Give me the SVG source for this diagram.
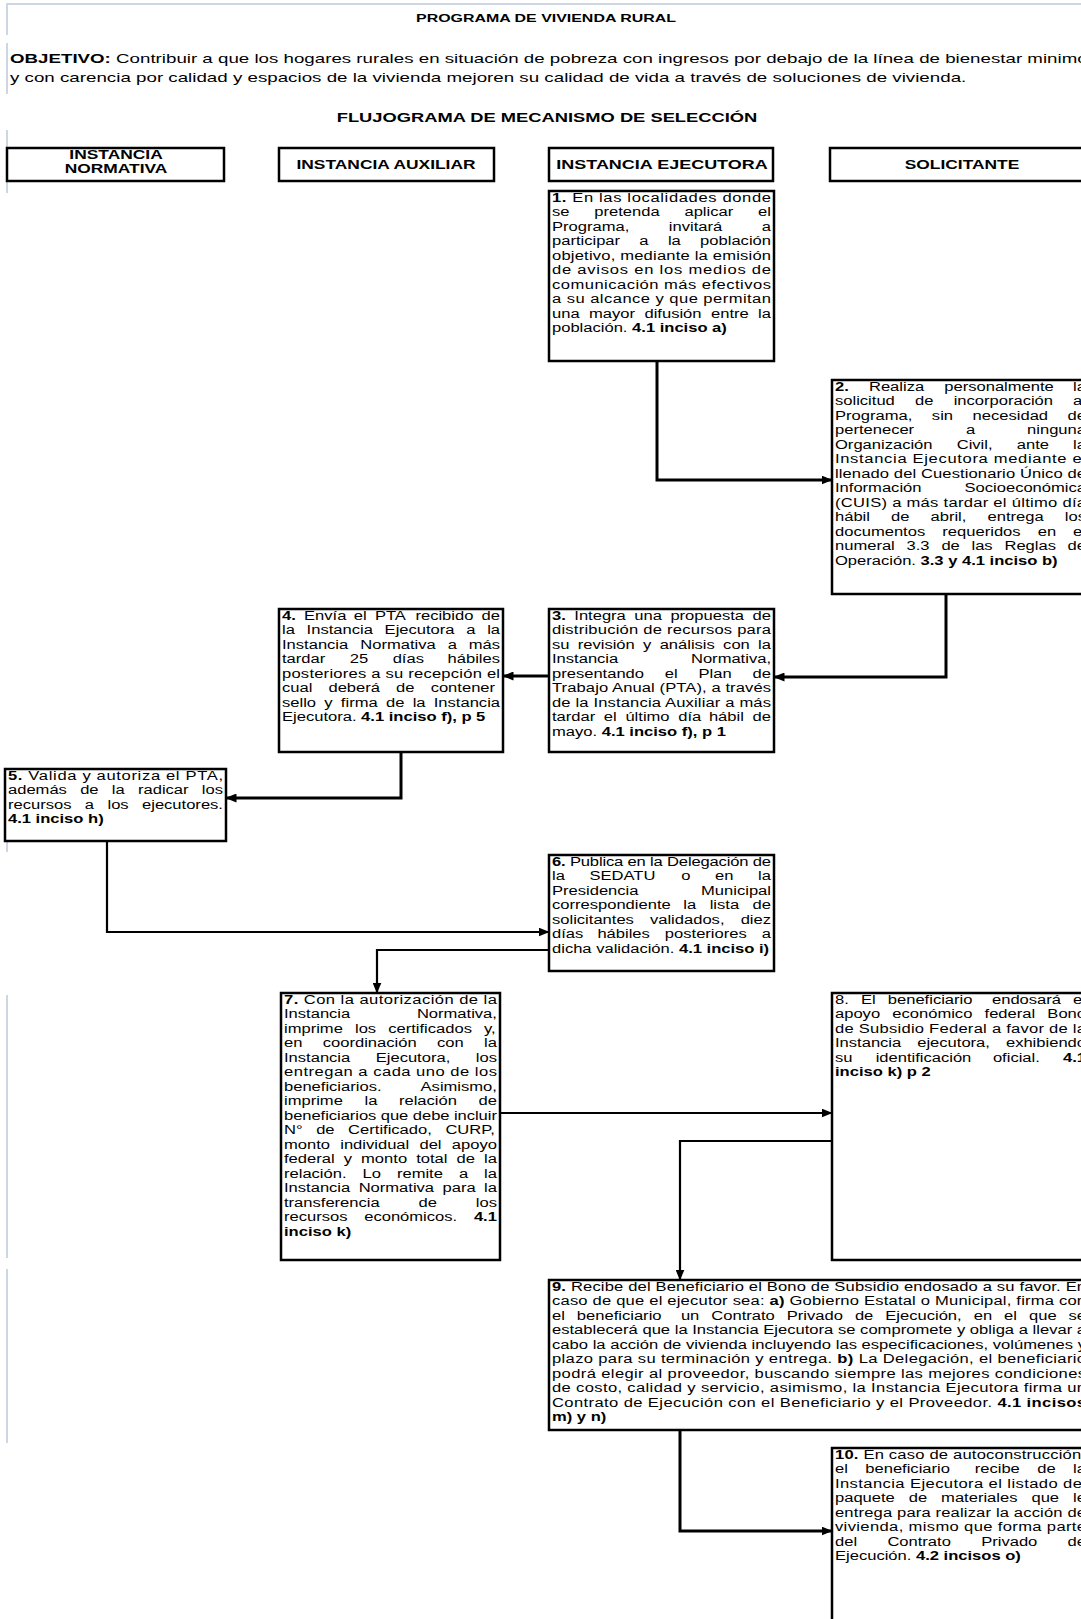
<svg xmlns="http://www.w3.org/2000/svg" width="1081" height="1619" viewBox="0 0 1081 1619">
<style>
text{font-family:"Liberation Sans",Arial,sans-serif;fill:#000}
.t{font-size:12px}
.b{font-weight:bold}
.h{font-size:12px;font-weight:bold;text-anchor:middle}
.box{fill:#fff;stroke:#000;stroke-width:2.5}
.c{fill:none;stroke:#000;stroke-width:3;marker-end:url(#ah)}
.c2{fill:none;stroke:#000;stroke-width:2.2;marker-end:url(#ah)}
.faint{stroke:#cdd6e4;stroke-width:2;fill:none}
</style>
<defs>
<marker id="ah" markerUnits="userSpaceOnUse" markerWidth="11" markerHeight="9" refX="10.5" refY="4.5" orient="auto">
<path d="M0,0 L11,4.5 L0,9 z" fill="#000"/>
</marker>
</defs>
<rect width="1081" height="1619" fill="#fff"/>
<g id="decor">
<path class="faint" d="M6,4 H1081 M7,5 V35 M7,43 V94 M7,130 V193 M7,781 V852 M7,995 V1258 M7,1269 V1443"/>
</g>
<g id="titles">
<text class="b" font-size="11" text-anchor="middle" transform="translate(546,22) scale(1.45,1)">PROGRAMA DE VIVIENDA RURAL</text>
<text font-size="13" transform="translate(10,63) scale(1.44,1)"><tspan class="b">OBJETIVO:</tspan> Contribuir a que los hogares rurales en situación de pobreza con ingresos por debajo de la línea de bienestar minimo</text>
<text font-size="13" transform="translate(10,82) scale(1.442,1)">y con carencia por calidad y espacios de la vivienda  mejoren su calidad de vida a través de soluciones de vivienda.</text>
<text class="b" font-size="13" text-anchor="middle" transform="translate(547,122) scale(1.41,1)">FLUJOGRAMA DE MECANISMO DE SELECCIÓN</text>
</g>
<g id="lanes">
<g id="lane-normativa"><rect class="box" x="7" y="148" width="217" height="33"/>
<text class="h" transform="translate(116,159) scale(1.45,1)">INSTANCIA</text>
<text class="h" transform="translate(116,173) scale(1.45,1)">NORMATIVA</text></g>
<g id="lane-auxiliar"><rect class="box" x="279" y="148" width="215" height="33"/>
<text class="h" transform="translate(386,169) scale(1.45,1)">INSTANCIA AUXILIAR</text></g>
<g id="lane-ejecutora"><rect class="box" x="549" y="148" width="224" height="33"/>
<text class="h" transform="translate(662,169) scale(1.5,1)">INSTANCIA EJECUTORA</text></g>
<g id="lane-solicitante"><rect class="box" x="830" y="148" width="264" height="33"/>
<text class="h" transform="translate(962,169) scale(1.45,1)">SOLICITANTE</text></g>
</g>
<g id="connectors">
<path class="c" d="M657,361 V480 H832"/>
<path class="c" d="M946,594 V677 H774"/>
<path class="c" d="M549,676 H503"/>
<path class="c" d="M401,752 V798 H226"/>
<path class="c2" d="M107,841 V932 H549"/>
<path class="c2" d="M549,950 H377 V993"/>
<path class="c2" d="M500,1113 H832"/>
<path class="c2" d="M832,1141 H680 V1280"/>
<path class="c" d="M680,1430 V1531 H832"/>
</g>
<g id="n1"><rect class="box" x="549" y="191" width="225" height="170"/>
<g class="t" transform="translate(552,191) scale(1.38,1)">
<text y="11" textLength="158.7" lengthAdjust="spacing"><tspan class="b">1.</tspan> En las localidades donde</text>
<text y="25.5"><tspan x="0">se</tspan><tspan x="30.67">pretenda</tspan><tspan x="96">aplicar</tspan><tspan x="149.36">el</tspan></text>
<text y="40"><tspan x="0">Programa,</tspan><tspan x="84.65">invitará</tspan><tspan x="152.03">a</tspan></text>
<text y="54.5"><tspan x="0">participar</tspan><tspan x="63.3">a</tspan><tspan x="84">la</tspan><tspan x="107.34">población</tspan></text>
<text y="69" textLength="158.7" lengthAdjust="spacing">objetivo, mediante la emisión</text>
<text y="83.5" textLength="158.7" lengthAdjust="spacing">de avisos en los medios de</text>
<text y="98" textLength="158.7" lengthAdjust="spacing">comunicación más efectivos</text>
<text y="112.5" textLength="158.7" lengthAdjust="spacing">a su alcance y que permitan</text>
<text y="127"><tspan x="0">una</tspan><tspan x="26.85">mayor</tspan><tspan x="67">difusión</tspan><tspan x="115.25">entre</tspan><tspan x="149.36">la</tspan></text>
<text y="141.5">población. <tspan class="b">4.1 inciso a)</tspan></text>
</g></g>
<g id="n2"><rect class="box" x="832" y="380" width="258" height="214"/>
<g class="t" transform="translate(835,380) scale(1.38,1)">
<text y="11"><tspan x="0" class="b">2.</tspan><tspan x="24.6">Realiza</tspan><tspan x="79.2">personalmente</tspan><tspan x="172.56">la</tspan></text>
<text y="25.5"><tspan x="0">solicitud</tspan><tspan x="58">de</tspan><tspan x="86">incorporación</tspan><tspan x="172.56">al</tspan></text>
<text y="40"><tspan x="0">Programa,</tspan><tspan x="70.2">sin</tspan><tspan x="99.7">necesidad</tspan><tspan x="168.56">de</tspan></text>
<text y="54.5"><tspan x="0">pertenecer</tspan><tspan x="95">a</tspan><tspan x="139.2">ninguna</tspan></text>
<text y="69"><tspan x="0">Organización</tspan><tspan x="88.2">Civil,</tspan><tspan x="131.7">ante</tspan><tspan x="172.56">la</tspan></text>
<text y="83.5" textLength="181.9" lengthAdjust="spacing">Instancia Ejecutora mediante el</text>
<text y="98" textLength="181.9" lengthAdjust="spacing">llenado del Cuestionario Único de</text>
<text y="112.5"><tspan x="0">Información</tspan><tspan x="93.87">Socioeconómica</tspan></text>
<text y="127" textLength="181.9" lengthAdjust="spacing">(CUIS) a más tardar el último día</text>
<text y="141.5"><tspan x="0">hábil</tspan><tspan x="40.6">de</tspan><tspan x="69.2">abril,</tspan><tspan x="110.5">entrega</tspan><tspan x="166.56">los</tspan></text>
<text y="156"><tspan x="0">documentos</tspan><tspan x="77.8">requeridos</tspan><tspan x="146.9">en</tspan><tspan x="172.56">el</tspan></text>
<text y="170.5"><tspan x="0">numeral</tspan><tspan x="51.84">3.3</tspan><tspan x="77.1">de</tspan><tspan x="98.9">las</tspan><tspan x="122.8">Reglas</tspan><tspan x="168.56">de</tspan></text>
<text y="185">Operación. <tspan class="b">3.3 y 4.1 inciso b)</tspan></text>
</g></g>
<g id="n3"><rect class="box" x="549" y="609" width="225" height="143"/>
<g class="t" transform="translate(552,609) scale(1.38,1)">
<text y="11"><tspan x="0" class="b">3.</tspan><tspan x="16.16">Integra</tspan><tspan x="59.67">una</tspan><tspan x="85.8">propuesta</tspan><tspan x="145.36">de</tspan></text>
<text y="25.5" textLength="158.7" lengthAdjust="spacing">distribución de recursos para</text>
<text y="40"><tspan x="0">su</tspan><tspan x="18.67">revisión</tspan><tspan x="66">y</tspan><tspan x="78">análisis</tspan><tspan x="124">con</tspan><tspan x="149.36">la</tspan></text>
<text y="54.5"><tspan x="0">Instancia</tspan><tspan x="100.7">Normativa,</tspan></text>
<text y="69"><tspan x="0">presentando</tspan><tspan x="81.8">el</tspan><tspan x="106.2">Plan</tspan><tspan x="145.36">de</tspan></text>
<text y="83.5" textLength="158.7" lengthAdjust="spacing">Trabajo Anual (PTA), a través</text>
<text y="98" textLength="158.7" lengthAdjust="spacing">de la Instancia Auxiliar a más</text>
<text y="112.5"><tspan x="0">tardar</tspan><tspan x="37.6">el</tspan><tspan x="53.2">último</tspan><tspan x="91.46">día</tspan><tspan x="113.7">hábil</tspan><tspan x="145.36">de</tspan></text>
<text y="127">mayo.  <tspan class="b">4.1 inciso f), p 1</tspan></text>
</g></g>
<g id="n4"><rect class="box" x="279" y="609" width="224" height="143"/>
<g class="t" transform="translate(282,609) scale(1.38,1)">
<text y="11"><tspan x="0" class="b">4.</tspan><tspan x="16">Envía</tspan><tspan x="52">el</tspan><tspan x="67.35">PTA</tspan><tspan x="96.7">recibido</tspan><tspan x="144.66">de</tspan></text>
<text y="25.5"><tspan x="0">la</tspan><tspan x="17.84">Instancia</tspan><tspan x="74.36">Ejecutora</tspan><tspan x="133.55">a</tspan><tspan x="148.66">la</tspan></text>
<text y="40"><tspan x="0">Instancia</tspan><tspan x="56.7">Normativa</tspan><tspan x="120.04">a</tspan><tspan x="135.33">más</tspan></text>
<text y="54.5"><tspan x="0">tardar</tspan><tspan x="49.1">25</tspan><tspan x="80.2">días</tspan><tspan x="119.98">hábiles</tspan></text>
<text y="69" textLength="158" lengthAdjust="spacing">posteriores a su recepción el</text>
<text y="83.5"><tspan x="0">cual</tspan><tspan x="33.67">deberá</tspan><tspan x="82.7">de</tspan><tspan x="107.71">contener</tspan></text>
<text y="98"><tspan x="0">sello</tspan><tspan x="30.67">y</tspan><tspan x="42.67">firma</tspan><tspan x="75.33">de</tspan><tspan x="94.67">la</tspan><tspan x="109.98">Instancia</tspan></text>
<text y="112.5">Ejecutora. <tspan class="b">4.1 inciso f), p 5</tspan></text>
</g></g>
<g id="n5"><rect class="box" x="5" y="769" width="221" height="72"/>
<g class="t" transform="translate(8,769) scale(1.38,1)">
<text y="11" textLength="155.8" lengthAdjust="spacing"><tspan class="b">5.</tspan> Valida y autoriza el PTA,</text>
<text y="25.5"><tspan x="0">además</tspan><tspan x="52.3">de</tspan><tspan x="75.24">la</tspan><tspan x="94.18">radicar</tspan><tspan x="140.46">los</tspan></text>
<text y="40"><tspan x="0">recursos</tspan><tspan x="55.7">a</tspan><tspan x="72.07">los</tspan><tspan x="97.11">ejecutores.</tspan></text>
<text y="54.5" class="b">4.1 inciso h)</text>
</g></g>
<g id="n6"><rect class="box" x="549" y="855" width="225" height="116"/>
<g class="t" transform="translate(552,855) scale(1.38,1)">
<text y="11" textLength="158.7" lengthAdjust="spacing"><tspan class="b">6.</tspan> Publica en la Delegación de</text>
<text y="25.5"><tspan x="0">la</tspan><tspan x="27.14">SEDATU</tspan><tspan x="93.6">o</tspan><tspan x="118.1">en</tspan><tspan x="149.36">la</tspan></text>
<text y="40"><tspan x="0">Presidencia</tspan><tspan x="108.02">Municipal</tspan></text>
<text y="54.5"><tspan x="0">correspondiente</tspan><tspan x="95.15">la</tspan><tspan x="114.26">lista</tspan><tspan x="145.36">de</tspan></text>
<text y="69"><tspan x="0">solicitantes</tspan><tspan x="71">validados,</tspan><tspan x="136.7">diez</tspan></text>
<text y="83.5"><tspan x="0">días</tspan><tspan x="32.9">hábiles</tspan><tspan x="81.8">posteriores</tspan><tspan x="152.03">a</tspan></text>
<text y="98">dicha validación. <tspan class="b">4.1 inciso i)</tspan></text>
</g></g>
<g id="n7"><rect class="box" x="281" y="993" width="219" height="267"/>
<g class="t" transform="translate(284,993) scale(1.38,1)">
<text y="11" textLength="154.3" lengthAdjust="spacing"><tspan class="b">7.</tspan> Con la autorización de la</text>
<text y="25.5"><tspan x="0">Instancia</tspan><tspan x="96.3">Normativa,</tspan></text>
<text y="40"><tspan x="0">imprime</tspan><tspan x="51.43">los</tspan><tspan x="75.54">certificados</tspan><tspan x="144.96">y,</tspan></text>
<text y="54.5"><tspan x="0">en</tspan><tspan x="28.1">coordinación</tspan><tspan x="110.9">con</tspan><tspan x="144.96">la</tspan></text>
<text y="69"><tspan x="0">Instancia</tspan><tspan x="66.47">Ejecutora,</tspan><tspan x="138.96">los</tspan></text>
<text y="83.5" textLength="154.3" lengthAdjust="spacing">entregan a cada uno de los</text>
<text y="98"><tspan x="0">beneficiarios.</tspan><tspan x="98.97">Asimismo,</tspan></text>
<text y="112.5"><tspan x="0">imprime</tspan><tspan x="58.32">la</tspan><tspan x="83.32">relación</tspan><tspan x="140.96">de</tspan></text>
<text y="127" textLength="154.3" lengthAdjust="spacing">beneficiarios que debe incluir</text>
<text y="141.5"><tspan x="0">N°</tspan><tspan x="23.3">de</tspan><tspan x="46.47">Certificado,</tspan><tspan x="116.97">CURP,</tspan></text>
<text y="156"><tspan x="0">monto</tspan><tspan x="40.75">individual</tspan><tspan x="98.15">del</tspan><tspan x="121.61">apoyo</tspan></text>
<text y="170.5"><tspan x="0">federal</tspan><tspan x="43.28">y</tspan><tspan x="55.86">monto</tspan><tspan x="95.79">total</tspan><tspan x="125.07">de</tspan><tspan x="144.96">la</tspan></text>
<text y="185"><tspan x="0">relación.</tspan><tspan x="56.93">Lo</tspan><tspan x="81.85">remite</tspan><tspan x="126.73">a</tspan><tspan x="144.96">la</tspan></text>
<text y="199.5"><tspan x="0">Instancia</tspan><tspan x="54.1">Normativa</tspan><tspan x="114.87">para</tspan><tspan x="144.96">la</tspan></text>
<text y="214"><tspan x="0">transferencia</tspan><tspan x="97.5">de</tspan><tspan x="138.96">los</tspan></text>
<text y="228.5"><tspan x="0">recursos</tspan><tspan x="58.15">económicos.</tspan><tspan x="137.62" class="b">4.1</tspan></text>
<text y="243" class="b">inciso k)</text>
</g></g>
<g id="n8"><rect class="box" x="832" y="993" width="258" height="267"/>
<g class="t" transform="translate(835,993) scale(1.38,1)">
<text y="11"><tspan x="0">8.</tspan><tspan x="18.8">El</tspan><tspan x="38.27">beneficiario</tspan><tspan x="113.77">endosará</tspan><tspan x="172.56">el</tspan></text>
<text y="25.5"><tspan x="0">apoyo</tspan><tspan x="41.53">económico</tspan><tspan x="108.37">federal</tspan><tspan x="153.88">Bono</tspan></text>
<text y="40" textLength="181.9" lengthAdjust="spacing">de Subsidio Federal a favor de la</text>
<text y="54.5"><tspan x="0">Instancia</tspan><tspan x="59.6">ejecutora,</tspan><tspan x="123.87">exhibiendo</tspan></text>
<text y="69"><tspan x="0">su</tspan><tspan x="29.45">identificación</tspan><tspan x="114.43">oficial.</tspan><tspan x="165.22" class="b">4.1</tspan></text>
<text y="83.5" class="b">inciso k) p 2</text>
</g></g>
<g id="n9"><rect class="box" x="549" y="1280" width="541" height="150"/>
<g class="t" transform="translate(552,1280) scale(1.38,1)">
<text y="11" textLength="387" lengthAdjust="spacing"><tspan class="b">9.</tspan> Recibe del Beneficiario el Bono de Subsidio endosado a su favor. En</text>
<text y="25.5" textLength="387" lengthAdjust="spacing">caso de que el ejecutor sea: <tspan class="b">a)</tspan> Gobierno Estatal o Municipal, firma con</text>
<text y="40"><tspan x="0">el</tspan><tspan x="18.03">beneficiario</tspan><tspan x="93.4">un</tspan><tspan x="115.43">Contrato</tspan><tspan x="170.14">Privado</tspan><tspan x="219.51">de</tspan><tspan x="241.54">Ejecución,</tspan><tspan x="305.59">en</tspan><tspan x="327.62">el</tspan><tspan x="345.65">que</tspan><tspan x="374.33">se</tspan></text>
<text y="54.5" textLength="387" lengthAdjust="spacing">establecerá que la Instancia Ejecutora se compromete y obliga a llevar a</text>
<text y="69" textLength="387" lengthAdjust="spacing">cabo la acción de vivienda incluyendo las especificaciones, volúmenes y</text>
<text y="83.5" textLength="387" lengthAdjust="spacing">plazo para su terminación y entrega. <tspan class="b">b)</tspan> La Delegación, el beneficiario</text>
<text y="98" textLength="387" lengthAdjust="spacing">podrá elegir al proveedor, buscando siempre las mejores condiciones</text>
<text y="112.5" textLength="387" lengthAdjust="spacing">de costo, calidad y servicio, asimismo, la Instancia Ejecutora firma un</text>
<text y="127" textLength="387" lengthAdjust="spacing">Contrato de Ejecución con el Beneficiario y el Proveedor.  <tspan class="b">4.1 incisos</tspan></text>
<text y="141.5" class="b">m) y n)</text>
</g></g>
<g id="n10"><rect class="box" x="832" y="1448" width="258" height="200"/>
<g class="t" transform="translate(835,1448) scale(1.38,1)">
<text y="11" textLength="181.9" lengthAdjust="spacing"><tspan class="b">10.</tspan> En caso de autoconstrucción,</text>
<text y="25.5"><tspan x="0">el</tspan><tspan x="21.94">beneficiario</tspan><tspan x="101.24">recibe</tspan><tspan x="146.54">de</tspan><tspan x="172.56">la</tspan></text>
<text y="40" textLength="181.9" lengthAdjust="spacing">Instancia Ejecutora el listado del</text>
<text y="54.5"><tspan x="0">paquete</tspan><tspan x="53.47">de</tspan><tspan x="76.91">materiales</tspan><tspan x="142.35">que</tspan><tspan x="172.56">le</tspan></text>
<text y="69" textLength="181.9" lengthAdjust="spacing">entrega para realizar la acción de</text>
<text y="83.5" textLength="181.9" lengthAdjust="spacing">vivienda, mismo que forma parte</text>
<text y="98"><tspan x="0">del</tspan><tspan x="37.97">Contrato</tspan><tspan x="105.94">Privado</tspan><tspan x="168.56">de</tspan></text>
<text y="112.5">Ejecución. <tspan class="b">4.2 incisos  o)</tspan></text>
</g></g>
</svg>
